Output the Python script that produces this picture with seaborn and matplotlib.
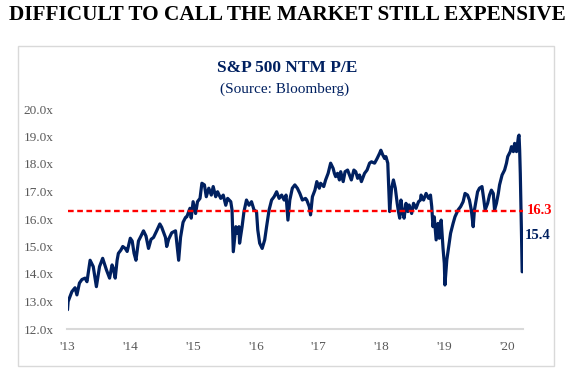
import matplotlib
matplotlib.use("Agg")
import matplotlib.pyplot as plt
import seaborn as sns
import pandas as pd
from matplotlib.patches import Rectangle

# ---- data ----
years = [
    2013.00, 2013.01, 2013.07, 2013.12, 2013.15, 2013.19, 2013.23, 2013.28, 2013.31, 2013.36,
    2013.41, 2013.46, 2013.51, 2013.56, 2013.62, 2013.67, 2013.71, 2013.73, 2013.76, 2013.79,
    2013.81, 2013.85, 2013.88, 2013.92, 2013.95, 2014.00, 2014.03, 2014.06, 2014.09, 2014.13,
    2014.17, 2014.21, 2014.25, 2014.29, 2014.33, 2014.37, 2014.42, 2014.47, 2014.50, 2014.56,
    2014.58, 2014.61, 2014.66, 2014.72, 2014.77, 2014.80, 2014.84, 2014.88, 2014.90, 2014.95,
    2014.97, 2015.00, 2015.04, 2015.07, 2015.11, 2015.14, 2015.18, 2015.21, 2015.25, 2015.29,
    2015.32, 2015.36, 2015.39, 2015.44, 2015.48, 2015.52, 2015.55, 2015.60, 2015.62, 2015.64,
    2015.68, 2015.70, 2015.73, 2015.74, 2015.78, 2015.81, 2015.85, 2015.89, 2015.93, 2015.97,
    2016.01, 2016.03, 2016.06, 2016.10, 2016.14, 2016.17, 2016.21, 2016.25, 2016.29, 2016.33,
    2016.37, 2016.41, 2016.45, 2016.48, 2016.51, 2016.54, 2016.58, 2016.62, 2016.66, 2016.70,
    2016.74, 2016.79, 2016.81, 2016.85, 2016.87, 2016.90, 2016.94, 2016.97, 2017.01, 2017.03,
    2017.08, 2017.11, 2017.15, 2017.19, 2017.23, 2017.25, 2017.27, 2017.30, 2017.33, 2017.35,
    2017.39, 2017.42, 2017.46, 2017.49, 2017.52, 2017.56, 2017.59, 2017.62, 2017.65, 2017.68,
    2017.73, 2017.77, 2017.81, 2017.84, 2017.89, 2017.93, 2017.97, 2017.99, 2018.02, 2018.05,
    2018.07, 2018.10, 2018.11, 2018.13, 2018.16, 2018.19, 2018.22, 2018.25, 2018.27, 2018.29,
    2018.31, 2018.34, 2018.36, 2018.39, 2018.42, 2018.44, 2018.48, 2018.51, 2018.55, 2018.59,
    2018.62, 2018.63, 2018.67, 2018.71, 2018.75, 2018.78, 2018.80, 2018.82, 2018.84, 2018.87,
    2018.90, 2018.92, 2018.95, 2018.98, 2019.00, 2019.01, 2019.04, 2019.07, 2019.10, 2019.14,
    2019.17, 2019.22, 2019.26, 2019.30, 2019.33, 2019.37, 2019.40, 2019.43, 2019.46, 2019.48,
    2019.53, 2019.56, 2019.60, 2019.63, 2019.65, 2019.69, 2019.72, 2019.75, 2019.78, 2019.80,
    2019.83, 2019.86, 2019.88, 2019.92, 2019.96, 2019.99, 2020.01, 2020.05, 2020.07, 2020.10,
    2020.12, 2020.15, 2020.18, 2020.19, 2020.20, 2020.21, 2020.22, 2020.23, 2020.24,
]
pe_values = [
    12.70, 13.00, 13.36, 13.50, 13.24, 13.67, 13.80, 13.85, 13.72, 14.50,
    14.27, 13.54, 14.27, 14.57, 14.15, 13.85, 14.33, 14.20, 13.85, 14.50,
    14.75, 14.87, 15.00, 14.93, 14.82, 15.30, 15.20, 14.75, 14.50, 15.20,
    15.38, 15.57, 15.38, 14.93, 15.26, 15.33, 15.57, 15.82, 15.70, 15.33,
    15.00, 15.26, 15.50, 15.57, 14.50, 15.33, 15.88, 16.06, 16.08, 16.39,
    16.03, 16.63, 16.20, 16.63, 16.75, 17.30, 17.24, 16.81, 17.12, 16.87,
    17.18, 16.81, 16.99, 16.75, 16.87, 16.50, 16.75, 16.63, 16.33, 14.81,
    15.72, 15.48, 15.72, 15.12, 15.72, 16.27, 16.69, 16.50, 16.63, 16.33,
    16.27, 15.60, 15.12, 14.93, 15.24, 15.72, 16.33, 16.69, 16.81, 16.99,
    16.75, 16.87, 16.69, 16.87, 15.96, 16.69, 17.12, 17.24, 17.12, 16.93,
    16.69, 16.75, 16.69, 16.45, 16.15, 16.81, 17.05, 17.36, 17.12, 17.30,
    17.18, 17.42, 17.66, 18.03, 17.84, 17.66, 17.54, 17.66, 17.42, 17.72,
    17.36, 17.72, 17.78, 17.60, 17.42, 17.78, 17.72, 17.48, 17.60, 17.36,
    17.66, 17.78, 18.03, 18.08, 18.03, 18.20, 18.39, 18.50, 18.33, 18.20,
    18.27, 18.03, 17.42, 16.27, 17.12, 17.42, 17.12, 16.57, 16.27, 16.03,
    16.69, 16.20, 16.03, 16.57, 16.27, 16.51, 16.20, 16.57, 16.39, 16.63,
    16.69, 16.87, 16.69, 16.93, 16.75, 16.87, 16.45, 15.72, 16.08, 15.24,
    15.84, 15.30, 15.96, 14.93, 14.39, 13.60, 14.51, 14.99, 15.48, 15.84,
    16.08, 16.33, 16.45, 16.63, 16.93, 16.87, 16.69, 16.33, 15.72, 16.33,
    16.99, 17.12, 17.18, 16.69, 16.33, 16.57, 16.87, 17.05, 16.93, 16.33,
    16.57, 16.93, 17.24, 17.60, 17.78, 18.03, 18.27, 18.45, 18.63, 18.45,
    18.75, 18.45, 18.99, 19.05, 18.50, 17.66, 16.57, 15.36, 14.08,
]
average_pe = 16.3
current_pe = 15.4
y_ticks = [12, 13, 14, 15, 16, 17, 18, 19, 20]
x_ticks = [2013, 2014, 2015, 2016, 2017, 2018, 2019, 2020]
x_tick_labels = ["'13", "'14", "'15", "'16", "'17", "'18", "'19", "'20"]

main_title = "DIFFICULT TO CALL THE MARKET STILL EXPENSIVE"
chart_title = "S&P 500 NTM P/E"
chart_subtitle = "(Source: Bloomberg)"

df = pd.DataFrame({"year": years, "pe": pe_values})

# ---- style ----
sns.set_style("white")
plt.rcParams["font.family"] = ["Liberation Serif", "DejaVu Serif"]

W, H = 575, 371
fig = plt.figure(figsize=(W / 100, H / 100), dpi=100)

NAVY = "#002060"
GRAY_TXT = "#595959"

# light frame around chart area
fig.patches.append(Rectangle((18 / W, 1 - 366 / H), (554 - 18) / W, (366 - 46) / H,
                             transform=fig.transFigure, fill=False,
                             edgecolor="#d9d9d9", linewidth=1.0, zorder=0))

ax_left, ax_right = 67.5, 523.0
ax_top, ax_bottom = 109.0, 329.0
ax = fig.add_axes([ax_left / W, 1 - ax_bottom / H, (ax_right - ax_left) / W, (ax_bottom - ax_top) / H])
ax.patch.set_alpha(0)

sns.lineplot(data=df, x="year", y="pe", ax=ax, color=NAVY, linewidth=2.3)
ax.axhline(average_pe, color="#ff0000", linestyle=(0, (2.4, 1.5)), linewidth=1.7, zorder=3)

ax.set_xlim(2013, 2013 + (ax_right - ax_left) / 62.8)
ax.set_ylim(12, 20)
ax.set_yticks(y_ticks)
ax.set_yticklabels([f"{v:.1f}x" for v in y_ticks])
ax.set_xticks(x_ticks)
ax.set_xticklabels(x_tick_labels)
ax.set_xlabel("")
ax.set_ylabel("")

for s in ["top", "right", "left"]:
    ax.spines[s].set_visible(False)
ax.spines["bottom"].set_color("#d9d9d9")
ax.spines["bottom"].set_linewidth(1.5)
ax.tick_params(axis="x", colors="#d9d9d9", length=4, width=1, direction="out",
               labelcolor=GRAY_TXT, labelsize=9.5, pad=5)
ax.tick_params(axis="y", length=0, labelcolor=GRAY_TXT, labelsize=9.5, pad=10)
ax.grid(False)

# end labels
ax.annotate(f"{average_pe}", xy=(1.0, average_pe), xycoords=("axes fraction", "data"),
            xytext=(2.5, 0), textcoords="offset points", color="#ff0000",
            fontsize=10.5, fontweight="bold", va="center", ha="left", annotation_clip=False)
ax.annotate(f"{current_pe}", xy=(1.0, current_pe), xycoords=("axes fraction", "data"),
            xytext=(1, 0), textcoords="offset points", color=NAVY,
            fontsize=10.5, fontweight="bold", va="center", ha="left", annotation_clip=False)

# titles
fig.text(0.5, 1 - 15 / H, main_title, ha="center", va="center", fontsize=15.3,
         fontweight="bold", color="black")
fig.text(287 / W, 1 - 68 / H, chart_title, ha="center", va="center", fontsize=12.5,
         fontweight="bold", color=NAVY)
fig.text(285 / W, 1 - 89 / H, chart_subtitle, ha="center", va="center", fontsize=11,
         color=NAVY)

fig.savefig("out.png", dpi=100)
